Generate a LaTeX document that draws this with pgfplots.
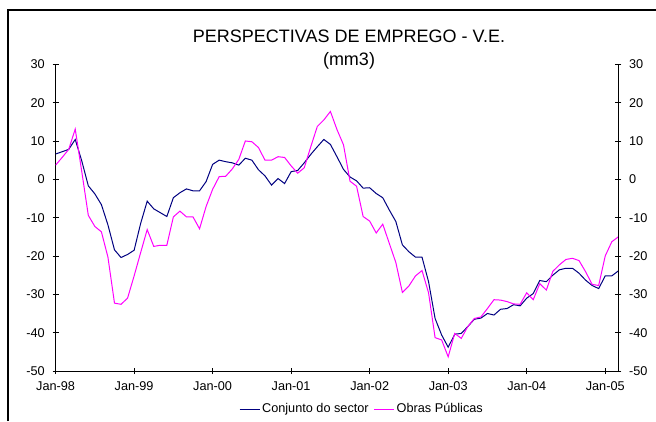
\documentclass[border=0pt]{standalone}
\usepackage{fontspec}
\setmainfont{Liberation Sans}
\usepackage{pgfplots}
\usepackage{pgfplotstable}
\pgfplotsset{compat=1.18}
\definecolor{navyx}{HTML}{000080}
\definecolor{magx}{HTML}{FF00FF}
\pgfplotstableread{
m c o
0 6.6 3.7
1 7.2 5.7
2 7.8 7.8
3 10.4 13.1
4 4.8 2.0
5 -1.7 -9.4
6 -3.8 -12.3
7 -6.6 -13.7
8 -11.9 -20.3
9 -18.4 -32.3
10 -20.4 -32.6
11 -19.6 -31.0
12 -18.5 -25.2
13 -11.5 -19.1
14 -5.7 -13.1
15 -7.7 -17.5
16 -8.7 -17.2
17 -9.7 -17.2
18 -4.8 -9.8
19 -3.5 -8.3
20 -2.5 -9.8
21 -3.0 -9.8
22 -3.0 -12.9
23 -0.6 -7.1
24 3.9 -2.6
25 5.0 0.7
26 4.6 0.8
27 4.3 2.7
28 3.7 5.2
29 5.5 10.0
30 5.0 9.8
31 2.5 8.3
32 0.9 5.0
33 -1.5 5.0
34 0.2 5.9
35 -1.1 5.7
36 2.0 3.5
37 2.3 1.6
38 4.3 3.0
39 6.5 8.5
40 8.5 13.8
41 10.4 15.5
42 9.1 17.7
43 5.9 13.0
44 2.6 9.0
45 0.6 -0.5
46 -0.4 -1.8
47 -2.3 -9.7
48 -2.2 -10.9
49 -3.7 -14.0
50 -4.8 -11.7
51 -8.0 -16.7
52 -11.0 -21.7
53 -17.1 -29.5
54 -18.9 -27.8
55 -20.3 -25.2
56 -20.3 -23.8
57 -26.7 -29.6
58 -36.3 -41.3
59 -40.6 -41.9
60 -43.8 -46.3
61 -40.4 -40.2
62 -40.2 -41.5
63 -38.4 -38.4
64 -36.5 -36.3
65 -36.2 -35.9
66 -35.0 -33.7
67 -35.4 -31.4
68 -33.9 -31.5
69 -33.7 -31.9
70 -32.7 -32.5
71 -33.0 -32.6
72 -31.0 -29.6
73 -29.8 -31.4
74 -26.4 -27.2
75 -26.7 -28.9
76 -25.0 -24.0
77 -23.6 -22.3
78 -23.2 -20.9
79 -23.2 -20.6
80 -24.5 -21.2
81 -26.3 -24.1
82 -27.7 -27.4
83 -28.5 -27.7
84 -25.2 -20.0
85 -25.2 -16.3
86 -23.9 -15.0
}\datatab
\newcommand{\tfont}{\fontsize{12.7}{14}\selectfont}
\begin{document}
\begin{tikzpicture}[x=1pt,y=1pt]
\useasboundingbox (0,0) rectangle (656,421);
\draw[line width=2pt] (7.5,0) -- (7.5,410.5) -- (656,410.5);
\pgfplotsset{
  common/.style={
    at={(55.6pt,50pt)}, anchor=south west, scale only axis,
    width=562.7pt, height=306.7pt,
    xmin=0, xmax=86, ymin=-50, ymax=30,
    ytick={-50,-40,...,30},
    tick align=center, major tick length=6pt,
    every tick/.style={black, line width=0.8pt},
    axis line style={-, black, line width=0.8pt},
    every inner x axis line/.append style={-},
    every outer x axis line/.append style={-},
    every inner y axis line/.append style={-},
    every outer y axis line/.append style={-},
    /pgf/number format/assume math mode=true,
    tick label style={font=\tfont, inner sep=0pt},
  }
}
\begin{axis}[common,
  axis x line*=bottom, axis y line*=left,
  xtick={0,12,...,84},
  xticklabels={Jan-98,Jan-99,Jan-00,Jan-01,Jan-02,Jan-03,Jan-04,Jan-05},
  xticklabel style={anchor=north, yshift=-7pt},
  yticklabel style={anchor=east, xshift=-7.6pt},
  legend style={at={(0.5445,-0.124)}, anchor=center, draw=none, fill=none,
    legend columns=2, font=\tfont, inner sep=0pt,
    /tikz/every even column/.append style={column sep=3pt}},
  legend image code/.code={\draw[#1] (0pt,0pt) -- (20pt,0pt);},
]
\addplot[navyx, line width=1pt] table[x=m, y=c] {\datatab};
\addlegendentry{Conjunto do sector}
\addplot[magx, line width=1pt] table[x=m, y=o] {\datatab};
\addlegendentry{Obras Públicas}
\end{axis}
\begin{axis}[common,
  axis x line=none, axis y line*=right,
  xtick=\empty,
  yticklabel style={anchor=west, xshift=7.6pt},
]
\end{axis}
\node[font=\fontsize{18}{21}\selectfont] at (349,385) {PERSPECTIVAS DE EMPREGO - V.E.};
\node[font=\fontsize{18}{21}\selectfont] at (349,360) {(mm3)};
\end{tikzpicture}
\end{document}
